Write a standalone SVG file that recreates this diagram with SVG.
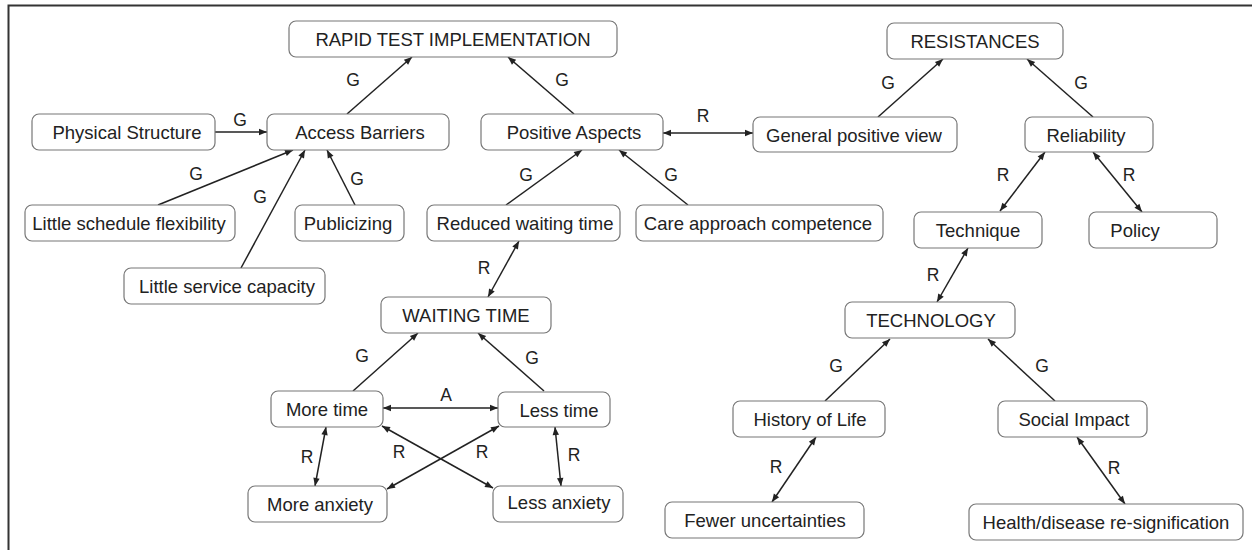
<svg xmlns="http://www.w3.org/2000/svg" width="1252" height="550" viewBox="0 0 1252 550">
<defs>
<marker id="ah" viewBox="0 0 10 10" refX="10" refY="5" markerWidth="10" markerHeight="8" markerUnits="userSpaceOnUse" orient="auto-start-reverse">
<path d="M0,1 L10,5 L0,9 Z" fill="#222"/>
</marker>
<style>
.n rect{fill:#fff;stroke:#777;stroke-width:1.2}
.n text{font-family:"Liberation Sans",Arial,sans-serif;font-size:18.5px;fill:#222;text-anchor:middle;dominant-baseline:central}
.e line{stroke:#222;stroke-width:1.5}
.e .one{marker-end:url(#ah)}
.e .two{marker-start:url(#ah);marker-end:url(#ah)}
.lbl text{font-family:"Liberation Sans",Arial,sans-serif;font-size:17.5px;fill:#222;text-anchor:middle;dominant-baseline:central}
</style>
</defs>
<rect width="1252" height="550" fill="#fff"/>
<path d="M8.5,550 V5.5 H1252" fill="none" stroke="#333" stroke-width="2"/>

<g id="connectors" class="e">
<line class="one" x1="347" y1="114" x2="412" y2="57"/>
<line class="one" x1="574" y1="114" x2="508" y2="57"/>
<line class="one" x1="215" y1="132" x2="267" y2="132"/>
<line class="one" x1="158" y1="205" x2="293" y2="150"/>
<line class="one" x1="241" y1="268" x2="305" y2="150"/>
<line class="one" x1="355" y1="205" x2="327" y2="150"/>
<line class="two" x1="663" y1="133" x2="753" y2="133"/>
<line class="one" x1="878" y1="117" x2="943" y2="59"/>
<line class="one" x1="1093" y1="117" x2="1027" y2="59"/>
<line class="one" x1="506" y1="205" x2="582" y2="150"/>
<line class="one" x1="688" y1="205" x2="619" y2="150"/>
<line class="two" x1="1045" y1="152" x2="1000" y2="211"/>
<line class="two" x1="1093" y1="152" x2="1142" y2="212"/>
<line class="two" x1="968" y1="248" x2="937" y2="302"/>
<line class="two" x1="519" y1="241" x2="488" y2="297"/>
<line class="one" x1="353" y1="391" x2="418" y2="333"/>
<line class="one" x1="544" y1="391" x2="478" y2="333"/>
<line class="two" x1="383" y1="408" x2="498" y2="408"/>
<line class="two" x1="326" y1="427" x2="315" y2="486"/>
<line class="two" x1="555" y1="427" x2="561" y2="486"/>
<line class="two" x1="382" y1="426" x2="493" y2="488"/>
<line class="two" x1="499" y1="426" x2="387" y2="489"/>
<line class="one" x1="825" y1="401" x2="890" y2="339"/>
<line class="one" x1="1055" y1="401" x2="988" y2="339"/>
<line class="two" x1="816" y1="437" x2="772" y2="502"/>
<line class="two" x1="1077" y1="437" x2="1125" y2="504"/>
</g>

<g id="labels" class="lbl">
<text x="353" y="80">G</text>
<text x="562" y="80">G</text>
<text x="240" y="120">G</text>
<text x="196" y="174">G</text>
<text x="260" y="197">G</text>
<text x="357" y="179">G</text>
<text x="703" y="116">R</text>
<text x="888" y="83">G</text>
<text x="1081" y="83">G</text>
<text x="526" y="175">G</text>
<text x="671" y="175">G</text>
<text x="1003" y="175">R</text>
<text x="1129" y="175">R</text>
<text x="933" y="275">R</text>
<text x="484" y="268">R</text>
<text x="362" y="356">G</text>
<text x="532" y="358">G</text>
<text x="446" y="395">A</text>
<text x="307" y="457">R</text>
<text x="574" y="455">R</text>
<text x="399" y="452">R</text>
<text x="482" y="452">R</text>
<text x="836" y="366">G</text>
<text x="1042" y="366">G</text>
<text x="776" y="467">R</text>
<text x="1114" y="468">R</text>
</g>

<g id="n-rapid" class="n"><rect x="289" y="21" width="328" height="36" rx="7"/><text x="453" y="39">RAPID TEST IMPLEMENTATION</text></g>
<g id="n-resist" class="n"><rect x="887" y="23" width="176" height="36" rx="7"/><text x="975" y="41">RESISTANCES</text></g>
<g id="n-physical" class="n"><rect x="32" y="114" width="183" height="36" rx="7"/><text x="127" y="132">Physical Structure</text></g>
<g id="n-access" class="n"><rect x="267" y="114" width="182" height="36" rx="7"/><text x="360" y="132">Access Barriers</text></g>
<g id="n-positive" class="n"><rect x="481" y="114" width="182" height="36" rx="7"/><text x="574" y="132">Positive Aspects</text></g>
<g id="n-general" class="n"><rect x="753" y="117" width="204" height="35" rx="7"/><text x="854" y="135">General positive view</text></g>
<g id="n-reliability" class="n"><rect x="1025" y="117" width="128" height="35" rx="7"/><text x="1086" y="135">Reliability</text></g>
<g id="n-schedule" class="n"><rect x="25" y="205" width="210" height="36" rx="7"/><text x="129" y="223">Little schedule flexibility</text></g>
<g id="n-publicizing" class="n"><rect x="295" y="205" width="109" height="36" rx="7"/><text x="348" y="223">Publicizing</text></g>
<g id="n-reduced" class="n"><rect x="427" y="205" width="193" height="36" rx="7"/><text x="525" y="223">Reduced waiting time</text></g>
<g id="n-care" class="n"><rect x="636" y="205" width="247" height="36" rx="7"/><text x="758" y="223">Care approach competence</text></g>
<g id="n-technique" class="n"><rect x="914" y="212" width="128" height="36" rx="7"/><text x="978" y="230">Technique</text></g>
<g id="n-policy" class="n"><rect x="1089" y="212" width="128" height="36" rx="7"/><text x="1135" y="230">Policy</text></g>
<g id="n-service" class="n"><rect x="124" y="268" width="201" height="36" rx="7"/><text x="227" y="286">Little service capacity</text></g>
<g id="n-waiting" class="n"><rect x="381" y="297" width="170" height="36" rx="7"/><text x="466" y="315">WAITING TIME</text></g>
<g id="n-technology" class="n"><rect x="845" y="302" width="170" height="36" rx="7"/><text x="931" y="320">TECHNOLOGY</text></g>
<g id="n-moretime" class="n"><rect x="271" y="391" width="112" height="36" rx="7"/><text x="327" y="409">More time</text></g>
<g id="n-lesstime" class="n"><rect x="498" y="392" width="112" height="35" rx="7"/><text x="559" y="410">Less time</text></g>
<g id="n-history" class="n"><rect x="733" y="401" width="152" height="36" rx="7"/><text x="810" y="419">History of Life</text></g>
<g id="n-social" class="n"><rect x="998" y="401" width="149" height="36" rx="7"/><text x="1074" y="419">Social Impact</text></g>
<g id="n-moreanx" class="n"><rect x="248" y="486" width="139" height="36" rx="7"/><text x="320" y="504">More anxiety</text></g>
<g id="n-lessanx" class="n"><rect x="493" y="486" width="130" height="36" rx="7"/><text x="559" y="502">Less anxiety</text></g>
<g id="n-fewer" class="n"><rect x="665" y="502" width="199" height="36" rx="7"/><text x="765" y="520">Fewer uncertainties</text></g>
<g id="n-health" class="n"><rect x="969" y="504" width="274" height="36" rx="7"/><text x="1106" y="522">Health/disease re-signification</text></g>
</svg>
